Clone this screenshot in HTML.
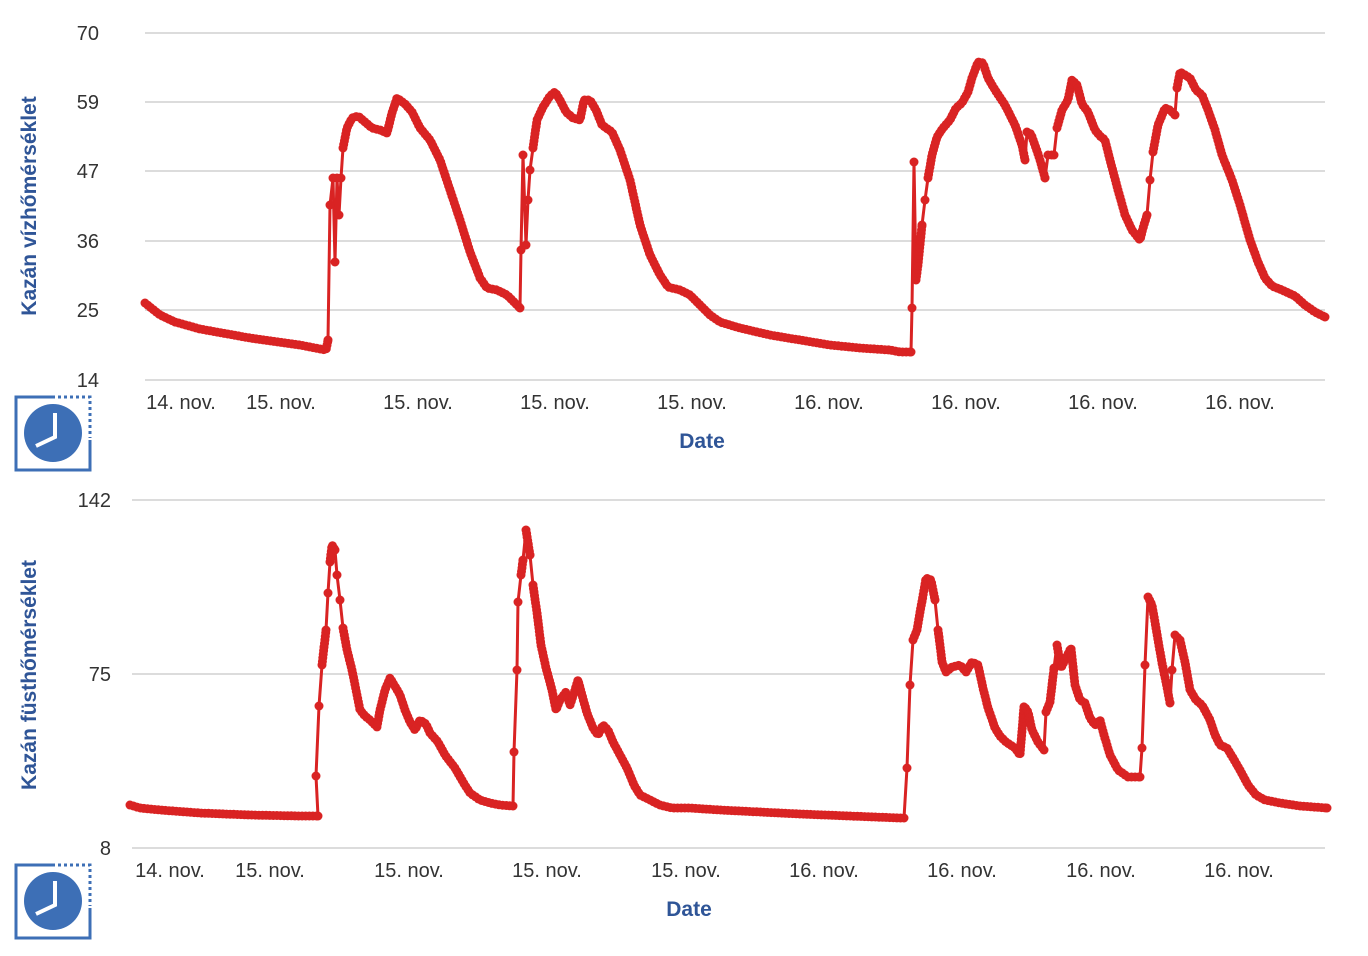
<!DOCTYPE html>
<html><head><meta charset="utf-8"><style>
html,body{margin:0;padding:0;background:#fff;}
svg{display:block;font-family:"Liberation Sans",Roboto,sans-serif;}
</style></head><body>
<svg id="s" width="1368" height="956" viewBox="0 0 1368 956" xmlns="http://www.w3.org/2000/svg">
<g stroke="#dcdcdc" stroke-width="2">
<line x1="145" x2="1325" y1="33" y2="33"/><line x1="145" x2="1325" y1="102" y2="102"/>
<line x1="145" x2="1325" y1="171" y2="171"/><line x1="145" x2="1325" y1="241" y2="241"/>
<line x1="145" x2="1325" y1="310" y2="310"/><line x1="145" x2="1325" y1="380" y2="380"/>
<line x1="132" x2="1325" y1="500" y2="500"/><line x1="132" x2="1325" y1="674" y2="674"/>
<line x1="132" x2="1325" y1="848" y2="848"/>
</g>
<g fill="#333" font-size="20" text-anchor="end">
<text x="99" y="40">70</text><text x="99" y="109">59</text><text x="99" y="178">47</text>
<text x="99" y="248">36</text><text x="99" y="317">25</text><text x="99" y="387">14</text>
<text x="111" y="507">142</text><text x="111" y="681">75</text><text x="111" y="855">8</text>
</g>
<g fill="#333" font-size="20" text-anchor="middle">
<text x="181" y="409">14. nov.</text><text x="281" y="409">15. nov.</text><text x="418" y="409">15. nov.</text>
<text x="555" y="409">15. nov.</text><text x="692" y="409">15. nov.</text><text x="829" y="409">16. nov.</text>
<text x="966" y="409">16. nov.</text><text x="1103" y="409">16. nov.</text><text x="1240" y="409">16. nov.</text>
<text x="170" y="877">14. nov.</text><text x="270" y="877">15. nov.</text><text x="409" y="877">15. nov.</text>
<text x="547" y="877">15. nov.</text><text x="686" y="877">15. nov.</text><text x="824" y="877">16. nov.</text>
<text x="962" y="877">16. nov.</text><text x="1101" y="877">16. nov.</text><text x="1239" y="877">16. nov.</text>
</g>
<g fill="#2f5597" font-size="21" font-weight="bold" text-anchor="middle">
<text x="702" y="448">Date</text><text x="689" y="916">Date</text>
<text transform="translate(36,206) rotate(-90)">Kazán vízhőmérséklet</text>
<text transform="translate(36,675) rotate(-90)">Kazán füsthőmérséklet</text>
</g>
<g id="ic1"><path d="M55 397 H16 V470 H90 V440" fill="none" stroke="#3d6fb6" stroke-width="3"/>
<path d="M58 397 H90 V438" fill="none" stroke="#3d6fb6" stroke-width="3" stroke-dasharray="3 3"/>
<circle cx="53" cy="433" r="29" fill="#3d6fb6"/>
<path d="M55 413 V437 L36 446" fill="none" stroke="#fff" stroke-width="4"/></g>
<use href="#ic1" y="468"/>
<g id="lines"></g>
</svg>
<script>
var A=[[145,303],[160,315],[175,322],[200,329],[250,338],[300,345],[320,349],[326,350],[328,340],[330,205],[333,178],[335,262],[337,178],[339,215],[341,178],[343,148],[347,128],[352,118],[358,116],[365,122],[372,128],[380,130],[387,133],[392,113],[397,98],[405,104],[412,112],[420,128],[430,140],[440,160],[450,190],[460,220],[470,252],[480,278],[487,288],[497,290],[507,295],[513,301],[520,308],[521,250],[523,155],[526,245],[528,200],[530,170],[533,148],[537,120],[543,107],[550,96],[555,92],[560,100],[566,112],[573,118],[580,120],[584,100],[590,100],[596,110],[602,125],[612,132],[620,150],[630,180],[640,225],[650,255],[660,275],[668,287],[680,290],[690,295],[700,305],[710,315],[720,322],[740,328],[770,335],[800,340],[830,345],[860,348],[890,350],[900,352],[911,352],[912,308],[914,162],[916,280],[918,265],[922,225],[925,200],[928,178],[932,155],[937,137],[943,128],[950,120],[956,108],[962,103],[968,92],[972,78],[978,62],[983,63],[988,78],[995,90],[1005,105],[1015,125],[1022,145],[1025,160],[1027,132],[1031,134],[1036,148],[1040,160],[1045,178],[1048,155],[1054,155],[1057,128],[1062,110],[1068,100],[1072,80],[1077,85],[1082,104],[1088,112],[1095,130],[1100,136],[1105,140],[1110,160],[1118,190],[1125,215],[1132,230],[1140,240],[1143,228],[1147,215],[1150,180],[1153,152],[1158,125],[1165,108],[1170,110],[1175,115],[1177,88],[1180,72],[1185,75],[1190,78],[1196,90],[1202,95],[1208,110],[1215,130],[1222,155],[1232,180],[1240,205],[1250,240],[1258,262],[1265,278],[1272,286],[1282,290],[1295,296],[1305,305],[1315,312],[1325,317]];
var B=[[130,805],[140,808],[160,810],[200,813],[250,815],[300,816],[318,816],[316,776],[319,706],[322,665],[326,630],[328,593],[330,562],[332,545],[335,550],[337,575],[340,600],[343,628],[347,650],[352,670],[356,690],[360,710],[365,716],[370,720],[377,727],[380,710],[385,690],[390,678],[396,688],[400,695],[405,710],[410,722],[415,730],[420,720],[426,724],[430,733],[438,742],[445,755],[455,768],[463,782],[470,793],[480,800],[490,803],[500,805],[513,806],[514,752],[517,670],[518,602],[521,575],[523,560],[526,530],[530,555],[533,585],[537,613],[541,645],[546,668],[552,690],[556,710],[560,700],[566,692],[570,705],[575,690],[578,680],[582,695],[587,713],[593,728],[598,735],[603,725],[608,730],[613,742],[620,755],[627,768],[634,785],[640,795],[650,800],[660,805],[672,808],[690,808],[720,810],[760,812],[800,814],[850,816],[900,818],[904,818],[907,768],[910,685],[913,640],[917,630],[920,612],[923,596],[926,578],[931,580],[935,600],[938,630],[940,645],[942,662],[946,672],[952,667],[960,665],[966,672],[972,662],[978,665],[983,688],[988,708],[995,728],[1000,736],[1006,742],[1015,748],[1020,755],[1024,706],[1028,712],[1032,730],[1038,742],[1044,750],[1046,712],[1050,702],[1054,668],[1057,645],[1061,668],[1066,658],[1071,648],[1075,685],[1080,700],[1085,703],[1090,718],[1095,725],[1100,720],[1104,735],[1110,755],[1118,770],[1128,777],[1140,777],[1142,748],[1145,665],[1148,597],[1152,605],[1155,622],[1158,640],[1162,663],[1166,682],[1170,703],[1172,670],[1175,635],[1180,640],[1185,662],[1190,690],[1196,700],[1202,705],[1210,720],[1215,735],[1220,745],[1227,748],[1233,758],[1240,770],[1248,785],[1256,795],[1265,800],[1280,803],[1300,806],[1327,808]];
var g=document.getElementById('lines'),h='';
function draw(P){
 h+='<polyline fill="none" stroke="#d92323" stroke-width="3" stroke-linejoin="round" points="'+P.map(function(p){return p.join(',')}).join(' ')+'"/>';
 var carry=0;
 for(var i=0;i<P.length-1;i++){
  var a=P[i],b=P[i+1],dx=b[0]-a[0],dy=b[1]-a[1],L=Math.sqrt(dx*dx+dy*dy);
  if(Math.abs(dx)<4&&Math.abs(dy)>20){h+='<circle cx="'+a[0]+'" cy="'+a[1]+'" r="4.5"/>';carry=0;continue;}
  var step=3.6,d=carry;
  while(d<L){var t=d/L;h+='<circle cx="'+(a[0]+dx*t).toFixed(1)+'" cy="'+(a[1]+dy*t).toFixed(1)+'" r="4.5"/>';d+=step;}
  carry=d-L;
 }
 var l=P[P.length-1];h+='<circle cx="'+l[0]+'" cy="'+l[1]+'" r="4.5"/>';
}
draw(A);draw(B);
g.setAttribute('fill','#d92323');g.innerHTML=h;
</script>
</body></html>
